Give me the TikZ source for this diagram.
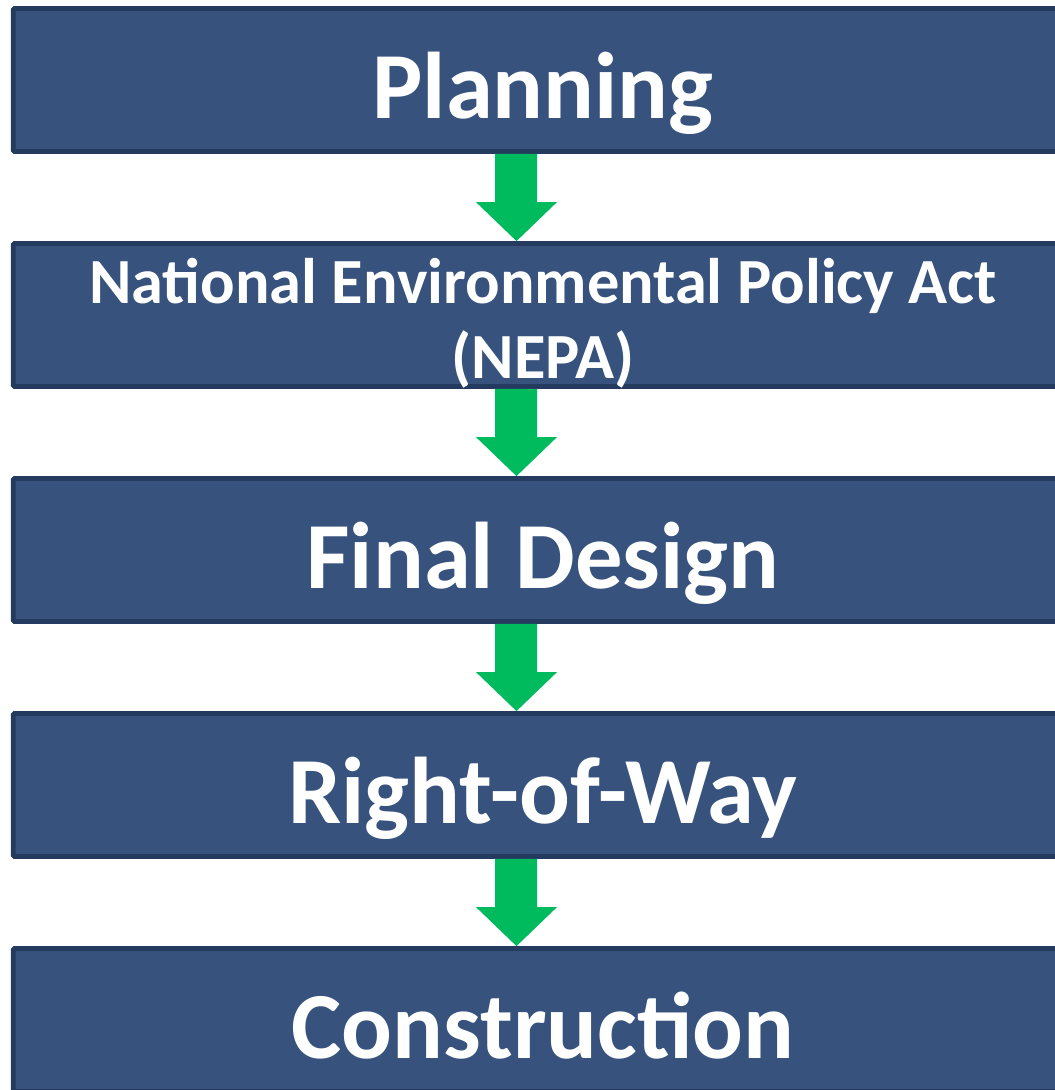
\documentclass[tikz,border=0pt]{standalone}
\usepackage{fontspec}
\setmainfont{Carlito}
\usetikzlibrary{calc}
\definecolor{boxfill}{RGB}{54,82,125}
\definecolor{boxedge}{RGB}{36,58,94}
\definecolor{arrowgreen}{RGB}{0,186,94}
\tikzset{
  stagebox/.style={draw=boxedge, fill=boxfill, line width=3.6pt, rounded corners=1pt,
    minimum width=794.6pt, minimum height=107.25pt, inner sep=0pt,
    text=white, font=\bfseries\fontsize{71}{80}\selectfont, text height=57pt, text depth=0pt},
  smallstage/.style={font=\bfseries\fontsize{48.3}{56}\selectfont, align=center, text height=94.5pt, text depth=0pt},
  stagearrow/.style={fill=arrowgreen}
}
\begin{document}
\begin{tikzpicture}[x=0.75pt,y=0.75pt,yscale=-1,xscale=1]
\clip (0,0) rectangle (1055,1090);

%Rectangles
\node[stagebox] (plan) at (543,80) {Planning};
\node[stagebox, smallstage] (nepa) at (543,315) {National Environmental Policy Act\\(NEPA)};
\node[stagebox] (design) at (543,550) {Final Design};
\node[stagebox] (row) at (543,785) {Right-of-Way};
\node[stagebox] (build) at (543,1020) {Construction};

%Down Arrows
\foreach \a/\b in {plan/nepa, nepa/design, design/row, row/build}
  \fill[stagearrow] ($(\a.south)+(-48,0)$) -- ($(\a.south)+(-6,0)$) -- ($(\b.north)+(-6,-39)$)
    -- ($(\b.north)+(14,-39)$) -- ($(\b.north)+(-26.5,0)$) -- ($(\b.north)+(-67,-39)$)
    -- ($(\b.north)+(-48,-39)$) -- cycle;

\end{tikzpicture}
\end{document}
